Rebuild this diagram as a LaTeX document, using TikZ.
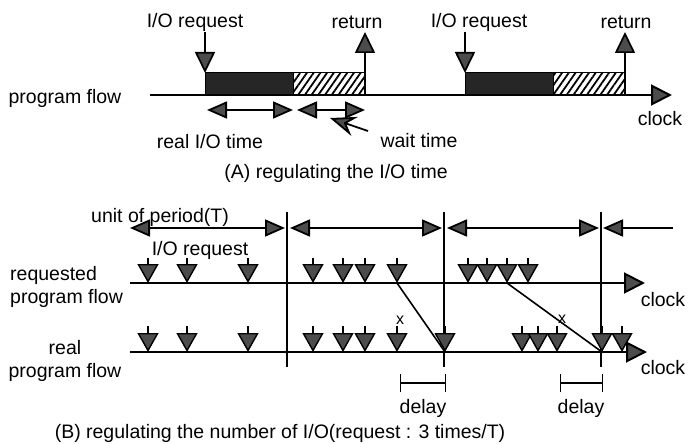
\documentclass[tikz,border=0pt]{standalone}
\usepackage{fontspec}
\setmainfont{Liberation Sans}
\usetikzlibrary{arrows.meta,patterns.meta}
\begin{document}
\begin{tikzpicture}[x=1pt,y=-1pt,
  lbl/.style={font=\fontsize{19.5}{23}\selectfont, inner sep=0pt},
  flow/.style={line width=2pt,-{Triangle[length=21pt,width=21pt,fill=black!70]}},
  bigtip/.style={line width=1.7pt,-{Triangle[length=21pt,width=20pt,fill=black!70]}},
  dbl/.style={line width=1.8pt,{Triangle[length=20pt,width=17pt,fill=black!70]}-{Triangle[length=20pt,width=17pt,fill=black!70]}},
  lefttip/.style={line width=1.8pt,{Triangle[length=20pt,width=17pt,fill=black!70]}-},
  reqtip/.style={line width=1.4pt,-{Triangle[length=19pt,width=21pt,fill=black!70]}},
  pointer/.style={line width=1.8pt,-{Stealth[length=26pt,width=20pt,inset=9pt,fill=black!70]}},
  hatch/.style={draw=black,line width=1pt,pattern={Lines[angle=55,distance=5.5pt,line width=1.8pt]}},
  solidbar/.style={fill=black!85,draw=black,line width=1pt},
  bracket/.style={line width=1.4pt,{Bar[width=18pt]}-{Bar[width=18pt]}},
  divider/.style={line width=1.8pt},
  xmark/.style={font=\fontsize{16}{16}\selectfont,inner sep=0pt},
]
\useasboundingbox (0,0) rectangle (691,444);

% ---------------- Part A ----------------
\node[lbl] (reqA1) at (195,22) {I/O request};
\node[lbl] (retA1) at (357,22) {return};
\node[lbl] (reqA2) at (479,22) {I/O request};
\node[lbl] (retA2) at (626,22) {return};
\node[lbl] (pfA) at (65,98) {program flow};
\node[lbl] (clockA) at (660,119) {clock};
\node[lbl] (realio) at (210,142) {real I/O time};
\node[lbl] (waitt) at (419,141) {wait time};
\node[lbl] (capA) at (336,173) {(A) regulating the I/O time};

\coordinate (aS) at (150,95);
\coordinate (aE) at (672,95);
\draw[flow] (aS) -- (aE);

\draw[solidbar] (205,73) rectangle (293,95);
\draw[hatch] (293,73) rectangle (365,95);
\draw[solidbar] (465,73) rectangle (553,95);
\draw[hatch] (553,73) rectangle (625,95);

\coordinate (d1s) at (205,32);
\coordinate (d1e) at (205,73);
\coordinate (d2s) at (465,32);
\coordinate (d2e) at (465,73);
\coordinate (r1s) at (365,95);
\coordinate (r1e) at (365,32);
\coordinate (r2s) at (625,95);
\coordinate (r2e) at (625,32);
\draw[bigtip] (d1s) -- (d1e);
\draw[bigtip] (d2s) -- (d2e);
\draw[bigtip] (r1s) -- (r1e);
\draw[bigtip] (r2s) -- (r2e);

\coordinate (rio1) at (207,110);
\coordinate (rio2) at (293,110);
\coordinate (wt1) at (297,110);
\coordinate (wt2) at (365,110);
\draw[dbl] (rio1) -- (rio2);
\draw[dbl] (wt1) -- (wt2);
\coordinate (wp1) at (368,131);
\coordinate (wp2) at (330,118);
\draw[pointer] (wp1) -- (wp2);

% ---------------- Part B ----------------
\node[lbl] (unit) at (160,217) {unit of period(T)};
\node[lbl] (reqB) at (200,250) {I/O request};
\node[lbl,align=left,anchor=west] (rqpf) at (10,287) {requested\\program flow};
\node[lbl,align=center] (rlpf) at (65,361) {real\\program flow};
\node[lbl] (clockB1) at (663,300) {clock};
\node[lbl] (clockB2) at (663,368) {clock};
\node[lbl] (delay1) at (423,408) {delay};
\node[lbl] (delay2) at (581,408) {delay};
\node[lbl] (capB) at (280,433) {(B) regulating the number of I/O(request : 3 times/T)};

% period dividers
\foreach \n/\x in {v1/287,v2/444,v3/601}{
  \coordinate (\n t) at (\x,212);
  \coordinate (\n b) at (\x,367);
  \draw[divider] (\n t) -- (\n b);
}
% period arrows
\coordinate (p0) at (130,228);
\coordinate (p1a) at (285,228);
\coordinate (p1b) at (290,228);
\coordinate (p2a) at (442,228);
\coordinate (p2b) at (447,228);
\coordinate (p3a) at (599,228);
\coordinate (p3b) at (603,228);
\coordinate (p4) at (673,228);
\draw[dbl] (p0) -- (p1a);
\draw[dbl] (p1b) -- (p2a);
\draw[dbl] (p2b) -- (p3a);
\draw[lefttip] (p3b) -- (p4);

% flows
\coordinate (rqS) at (130,283);
\coordinate (rqE) at (645,283);
\coordinate (rlS) at (130,352);
\coordinate (rlE) at (647,352);
\draw[flow] (rqS) -- (rqE);
\draw[flow] (rlS) -- (rlE);

% requests
\foreach \x [count=\i] in {148,187,248,313,343,365,397,468,487,507,528}{
  \coordinate (q\i t) at (\x,258);
  \coordinate (q\i b) at (\x,283);
  \draw[reqtip] (q\i t) -- (q\i b);
}
% real I/O
\foreach \x [count=\i] in {148,187,248,313,343,365,397,445,522,538,557,602,622}{
  \coordinate (g\i t) at (\x,326);
  \coordinate (g\i b) at (\x,352);
  \draw[reqtip] (g\i t) -- (g\i b);
}
% delayed requests
\draw[line width=1.6pt] (q7b) -- (g8b);
\draw[line width=1.6pt] (q10b) -- (g12b);
\node[xmark] (x1) at (400,320) {x};
\node[xmark] (x2) at (562,319) {x};

% delay brackets
\coordinate (b1a) at (400,383);
\coordinate (b1b) at (446,383);
\coordinate (b2a) at (560,383);
\coordinate (b2b) at (603,383);
\draw[bracket] (b1a) -- (b1b);
\draw[bracket] (b2a) -- (b2b);
\end{tikzpicture}
\end{document}
